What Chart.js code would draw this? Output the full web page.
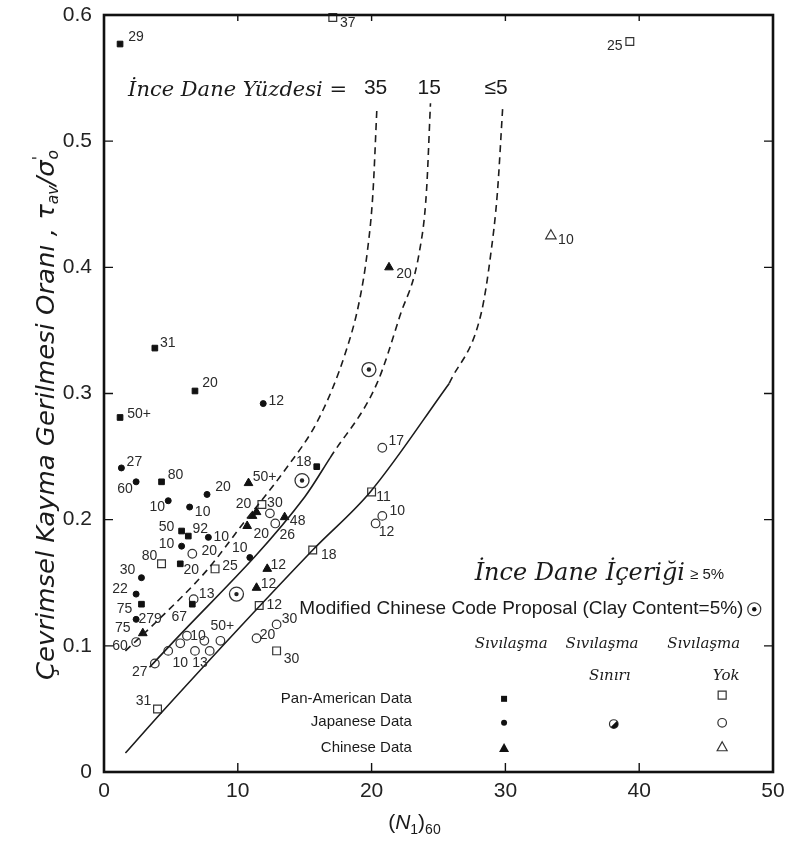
<!DOCTYPE html>
<html>
<head>
<meta charset="utf-8">
<script src="https://cdn.jsdelivr.net/npm/chart.js@4.4.1/dist/chart.umd.min.js"></script>
<style>
  html, body { margin: 0; padding: 0; background: #fff; }
  canvas { display: block; }
</style>
</head>
<body>
<canvas id="chart" width="787" height="843"></canvas>
<script>
// ---- Boundary curves: [(N1)60, cyclic stress ratio] ----
const curve35 = [[1.6,0.096],[4.2,0.122],[7.7,0.160],[10.4,0.197],[13.5,0.239],[16.1,0.281],[18.1,0.334],[19.1,0.374],[19.7,0.414],[20.1,0.459],[20.4,0.527]];
const curve15Solid = [[3.4,0.083],[4.55,0.096],[15.0,0.218],[16.9,0.249]];
const curve15Dash = [[16.9,0.249],[20.4,0.308],[22.1,0.361],[23.6,0.414],[24.1,0.460],[24.4,0.530]];
const curve5Solid = [[1.6,0.015],[4.2,0.046],[15.6,0.176],[19.9,0.222],[25.8,0.308]];
const curve5Dash = [[25.8,0.308],[28.2,0.364],[28.9,0.410],[29.4,0.459],[29.8,0.527]];

// ---- Field case records: [(N1)60, stress ratio, fines content label] ----
const panAmLiq = [[1.2,0.577,'29'],[3.8,0.336,'31'],[6.8,0.302,'20'],[1.2,0.281,'50+'],[4.3,0.230,'80'],
  [15.9,0.242,'18'],[5.8,0.191,'50'],[6.3,0.187,'92'],[5.7,0.165,'20'],[2.8,0.133,'75'],[6.6,0.133,'67']];
const panAmNo = [[17.1,0.598,'37'],[39.3,0.579,'25'],[4.3,0.165,'80'],[8.3,0.161,'25'],[11.8,0.212,'30'],
  [11.6,0.132,'12'],[12.9,0.096,'30'],[4.0,0.050,'31'],[20.0,0.222,'11'],[15.6,0.176,'18']];
const japLiq = [[1.3,0.241,'27'],[2.4,0.230,'60'],[4.8,0.215,'10'],[6.4,0.210,'10'],[7.7,0.220,'20'],
  [11.9,0.292,'12'],[7.8,0.186,'10'],[5.8,0.179,'10'],[2.8,0.154,'30'],[2.4,0.141,'22'],[2.4,0.121,'279'],[10.9,0.170,'10']];
const japNo = [[6.6,0.173,'20'],[6.7,0.137,'13'],[12.9,0.117,'30'],[11.4,0.106,'20'],[2.4,0.103,'60'],
  [4.8,0.096,'10'],[5.7,0.102,''],[6.2,0.108,'10'],[6.8,0.096,'13'],[7.9,0.096,''],[7.5,0.104,''],[8.7,0.104,'50+'],
  [3.8,0.086,'27'],[12.4,0.205,''],[12.8,0.197,'26'],[20.8,0.257,'17'],[20.8,0.203,'10'],[20.3,0.197,'12']];
const chinLiq = [[10.8,0.229,'50+'],[21.3,0.400,'20'],[11.1,0.203,'20'],[10.7,0.195,'20'],[11.4,0.206,''],
  [13.5,0.202,'48'],[12.2,0.161,'12'],[11.4,0.146,'12'],[2.9,0.110,'75']];
const chinNo = [[33.4,0.425,'10']];
const modifiedCode = [[19.8,0.319],[14.8,0.231],[9.9,0.141]];

// label offsets (px) for each record, same order as above
const panAmLiqOff = [[16,-7],[13,-5],[15,-8],[19,-3],[14,-7],[-13,-5],[-15,-4],[12,-7],[11,6],[-17,5],[-13,13]];
const panAmNoOff = [[15,6],[-15,5],[-12,-8],[15,-3],[13,-1],[15,0],[15,8],[-14,-8],[12,5],[16,5]];
const japLiqOff = [[13,-6],[-11,7],[-11,6],[13,5],[16,-7],[13,-2],[13,0],[-15,-2],[-14,-8],[-16,-5],[14,0],[-10,-9]];
const japNoOff = [[17,-3],[13,-5],[13,-5],[11,-3],[-16,4],[12,12],[0,0],[11,0],[5,12],[0,0],[0,0],[2,-15],
  [-15,9],[0,0],[12,12],[14,-7],[15,-5],[11,9]];
const chinLiqOff = [[16,-6],[15,7],[-9,-12],[14,8],[0,0],[13,4],[11,-4],[12,-4],[-20,-5]];
const chinNoOff = [[15,4]];

const xTicks = [0, 10, 20, 30, 40, 50];
const yTicks = [0, 0.1, 0.2, 0.3, 0.4, 0.5, 0.6];

const INK = '#1c1c1c';
const toXY = arr => arr.map(p => ({ x: p[0], y: p[1] }));

function curveSet(pts, dashed) {
  return {
    type: 'scatter', data: toXY(pts), showLine: true, pointRadius: 0,
    borderColor: INK, borderWidth: 1.6, borderDash: dashed ? [7, 5] : [],
    cubicInterpolationMode: 'monotone', fill: false, clip: false
  };
}
function pointSet(rows, offs, style) {
  return Object.assign({
    type: 'scatter', data: toXY(rows), clip: false,
    pointLabels: rows.map(r => r[2] || ''), labelOffsets: offs
  }, style);
}

const datasets = [
  curveSet(curve35, true), curveSet(curve15Solid, false), curveSet(curve15Dash, true),
  curveSet(curve5Solid, false), curveSet(curve5Dash, true),
  pointSet(panAmLiq, panAmLiqOff, { pointStyle: 'rect', pointRadius: 4, backgroundColor: '#111', borderColor: '#111', borderWidth: 1 }),
  pointSet(panAmNo, panAmNoOff, { pointStyle: 'rect', pointRadius: 5.5, backgroundColor: '#fff', borderColor: '#333', borderWidth: 1.2 }),
  pointSet(japLiq, japLiqOff, { pointStyle: 'circle', pointRadius: 3, backgroundColor: '#111', borderColor: '#111', borderWidth: 1 }),
  pointSet(japNo, japNoOff, { pointStyle: 'circle', pointRadius: 4.3, backgroundColor: 'rgba(255,255,255,0)', borderColor: '#333', borderWidth: 1.2 }),
  pointSet(chinLiq, chinLiqOff, { pointStyle: 'triangle', pointRadius: 5, backgroundColor: '#111', borderColor: '#111', borderWidth: 1 }),
  pointSet(chinNo, chinNoOff, { pointStyle: 'triangle', pointRadius: 6, backgroundColor: '#fff', borderColor: '#333', borderWidth: 1.2 }),
  { type: 'scatter', data: toXY(modifiedCode), clip: false, pointStyle: 'circle', pointRadius: 7, backgroundColor: 'rgba(255,255,255,0)', borderColor: '#333', borderWidth: 1.3 },
  { type: 'scatter', data: toXY(modifiedCode), clip: false, pointStyle: 'circle', pointRadius: 2.2, backgroundColor: '#222', borderColor: '#222', borderWidth: 0 }
];

const SANS = '"Liberation Sans", Arial, Helvetica, sans-serif';

// small marker painters used in the key
function mark(ctx, kind, x, y) {
  ctx.save();
  ctx.lineWidth = 1.2; ctx.strokeStyle = '#333'; ctx.fillStyle = '#111';
  ctx.beginPath();
  if (kind === 'sqF') { ctx.rect(x - 3, y - 3, 6, 6); ctx.fill(); }
  else if (kind === 'sqO') { ctx.rect(x - 4, y - 4, 8, 8); ctx.stroke(); }
  else if (kind === 'ciF') { ctx.arc(x, y, 3, 0, 2 * Math.PI); ctx.fill(); }
  else if (kind === 'ciO') { ctx.arc(x, y, 4.3, 0, 2 * Math.PI); ctx.stroke(); }
  else if (kind === 'ciH') {
    ctx.arc(x, y, 4.3, 0, 2 * Math.PI); ctx.stroke();
    ctx.beginPath(); ctx.arc(x, y, 4.3, -Math.PI / 4, 3 * Math.PI / 4); ctx.closePath(); ctx.fill();
  }
  else if (kind === 'trF' || kind === 'trO') {
    ctx.moveTo(x, y - 5); ctx.lineTo(x + 5, y + 4); ctx.lineTo(x - 5, y + 4); ctx.closePath();
    if (kind === 'trF') ctx.fill(); else ctx.stroke();
  }
  else if (kind === 'dbl') {
    ctx.arc(x, y, 6.5, 0, 2 * Math.PI); ctx.stroke();
    ctx.beginPath(); ctx.arc(x, y, 2.2, 0, 2 * Math.PI); ctx.fill();
  }
  ctx.restore();
}

// draws a run of [text, font, dy, extraAdvance] pieces starting at x, returns end x
function run(ctx, pieces, x, y) {
  pieces.forEach(p => {
    ctx.font = p[1];
    ctx.fillText(p[0], x, y + (p[2] || 0));
    x += ctx.measureText(p[0]).width + (p[3] || 0);
  });
  return x;
}
function runWidth(ctx, pieces) {
  let w = 0;
  pieces.forEach(p => { ctx.font = p[1]; w += ctx.measureText(p[0]).width + (p[3] || 0); });
  return w;
}

const decor = {
  id: 'decor',
  afterDatasetsDraw(chart) {
    const ctx = chart.ctx;
    const xs = chart.scales.x, ys = chart.scales.y;
    const P = (x, y) => [xs.getPixelForValue(x), ys.getPixelForValue(y)];
    const a = chart.chartArea;

    // fines-content labels beside each record
    ctx.save();
    ctx.font = '14px ' + SANS;
    ctx.fillStyle = '#2a2a2a';
    ctx.textAlign = 'center'; ctx.textBaseline = 'middle';
    chart.data.datasets.forEach((ds, i) => {
      if (!ds.pointLabels) return;
      chart.getDatasetMeta(i).data.forEach((el, j) => {
        const t = ds.pointLabels[j]; if (!t) return;
        const o = ds.labelOffsets[j];
        ctx.fillText(t, el.x + o[0], el.y + o[1]);
      });
    });
    ctx.restore();

    // frame and inward ticks
    ctx.save();
    ctx.strokeStyle = '#111'; ctx.lineWidth = 2.6;
    ctx.strokeRect(a.left, a.top, a.right - a.left, a.bottom - a.top);
    ctx.lineWidth = 1.4;
    ctx.beginPath();
    xTicks.slice(1, -1).forEach(v => {
      const px = xs.getPixelForValue(v);
      ctx.moveTo(px, a.bottom); ctx.lineTo(px, a.bottom - 9);
      ctx.moveTo(px, a.top); ctx.lineTo(px, a.top + 6);
    });
    yTicks.slice(1, -1).forEach(v => {
      const py = ys.getPixelForValue(v);
      ctx.moveTo(a.left, py); ctx.lineTo(a.left + 9, py);
      ctx.moveTo(a.right, py); ctx.lineTo(a.right - 9, py);
    });
    ctx.stroke();
    ctx.restore();

    // curve captions
    ctx.save();
    ctx.fillStyle = '#1a1a1a';
    ctx.textBaseline = 'middle';
    let p = P(1.8, 0.540);
    ctx.textAlign = 'left';
    ctx.font = 'italic 21px "DejaVu Serif", serif';
    ctx.fillText('İnce Dane Yüzdesi =', p[0], p[1]);
    ctx.font = '21px ' + SANS;
    ctx.textAlign = 'center';
    p = P(20.3, 0.542); ctx.fillText('35', p[0], p[1]);
    p = P(24.3, 0.542); ctx.fillText('15', p[0], p[1]);
    p = P(29.3, 0.542); ctx.fillText('≤5', p[0], p[1]);

    // key block
    ctx.textAlign = 'left';
    p = P(27.7, 0.157);
    ctx.font = 'italic 24px "DejaVu Serif", serif';
    ctx.fillText('İnce Dane İçeriği', p[0], p[1]);
    const wIce = ctx.measureText('İnce Dane İçeriği').width;
    ctx.font = '15px ' + SANS;
    ctx.fillText('≥ 5%', p[0] + wIce + 5, p[1] + 1);

    p = P(14.6, 0.129);
    ctx.font = '19px ' + SANS;
    ctx.fillText('Modified Chinese Code Proposal (Clay Content=5%)', p[0], p[1]);
    p = P(48.6, 0.129); mark(ctx, 'dbl', p[0], p[1]);

    ctx.font = 'italic 15px "DejaVu Serif", serif';
    p = P(27.7, 0.101); ctx.fillText('Sıvılaşma', p[0], p[1]);
    p = P(34.5, 0.101); ctx.fillText('Sıvılaşma', p[0], p[1]);
    p = P(42.1, 0.101); ctx.fillText('Sıvılaşma', p[0], p[1]);
    ctx.textAlign = 'center';
    p = P(37.8, 0.076); ctx.fillText('Sınırı', p[0], p[1]);
    p = P(46.5, 0.076); ctx.fillText('Yok', p[0], p[1]);

    ctx.textAlign = 'right';
    ctx.font = '15px ' + SANS;
    p = P(23.0, 0.058); ctx.fillText('Pan-American Data', p[0], p[1]);
    p = P(23.0, 0.040); ctx.fillText('Japanese Data', p[0], p[1]);
    p = P(23.0, 0.019); ctx.fillText('Chinese Data', p[0], p[1]);

    p = P(29.9, 0.058); mark(ctx, 'sqF', p[0], p[1]);
    p = P(46.2, 0.061); mark(ctx, 'sqO', p[0], p[1]);
    p = P(29.9, 0.039); mark(ctx, 'ciF', p[0], p[1]);
    p = P(38.1, 0.038); mark(ctx, 'ciH', p[0], p[1]);
    p = P(46.2, 0.039); mark(ctx, 'ciO', p[0], p[1]);
    p = P(29.9, 0.019); mark(ctx, 'trF', p[0], p[1]);
    p = P(46.2, 0.020); mark(ctx, 'trO', p[0], p[1]);
    ctx.restore();

    // x axis title: (N1)60
    ctx.save();
    ctx.fillStyle = '#1a1a1a';
    ctx.textBaseline = 'alphabetic'; ctx.textAlign = 'left';
    const xt = [['(', '21px ' + SANS], ['N', 'italic 21px ' + SANS], ['1', '14px ' + SANS, 5], [')', '21px ' + SANS], ['60', '14px ' + SANS, 5]];
    const xw = runWidth(ctx, xt);
    run(ctx, xt, xs.getPixelForValue(23.2) - xw / 2, 829);
    ctx.restore();

    // y axis title, rotated and fitted to its span
    ctx.save();
    ctx.fillStyle = '#1a1a1a';
    ctx.translate(54, 415);
    ctx.rotate(-Math.PI / 2);
    ctx.textBaseline = 'alphabetic'; ctx.textAlign = 'left';
    const F = 'italic 25px "Liberation Sans Narrow", "DejaVu Sans Condensed", ' + SANS;
    const f = 'italic 15px "Liberation Sans Narrow", "DejaVu Sans Condensed", ' + SANS;
    const yt = [['Çevrimsel Kayma Gerilmesi Oranı , ', F], ['τ', F], ['av', f, 4], ['/σ', F], ["'", f, -10, -3], ['o', f, 4]];
    const yw = runWidth(ctx, yt);
    ctx.scale(530 / yw, 1);
    run(ctx, yt, -yw / 2, 0);
    ctx.restore();
  }
};

new Chart(document.getElementById('chart'), {
  type: 'scatter',
  data: { datasets },
  options: {
    responsive: false,
    animation: false,
    devicePixelRatio: 1,
    layout: { padding: { left: 0, top: 15, right: 14, bottom: 0 } },
    plugins: { legend: { display: false }, tooltip: { enabled: false }, title: { display: false } },
    scales: {
      x: {
        type: 'linear', min: 0, max: 50,
        afterBuildTicks: s => { s.ticks = xTicks.map(v => ({ value: v })); },
        afterFit: s => { s.height = 71; s.paddingLeft = 0; s.paddingRight = 0; },
        grid: { display: false, drawTicks: false },
        border: { display: false },
        ticks: { padding: 7, color: '#222', font: { family: SANS, size: 21 } }
      },
      y: {
        type: 'linear', min: 0, max: 0.6,
        afterBuildTicks: s => { s.ticks = yTicks.map(v => ({ value: v })); },
        afterFit: s => { s.width = 104; s.paddingTop = 0; s.paddingBottom = 0; },
        grid: { display: false, drawTicks: false },
        border: { display: false },
        ticks: {
          padding: 12, color: '#222', font: { family: SANS, size: 21 },
          callback: v => (v === 0 ? '0' : v.toFixed(1))
        }
      }
    }
  },
  plugins: [decor]
});
</script>
</body>
</html>
